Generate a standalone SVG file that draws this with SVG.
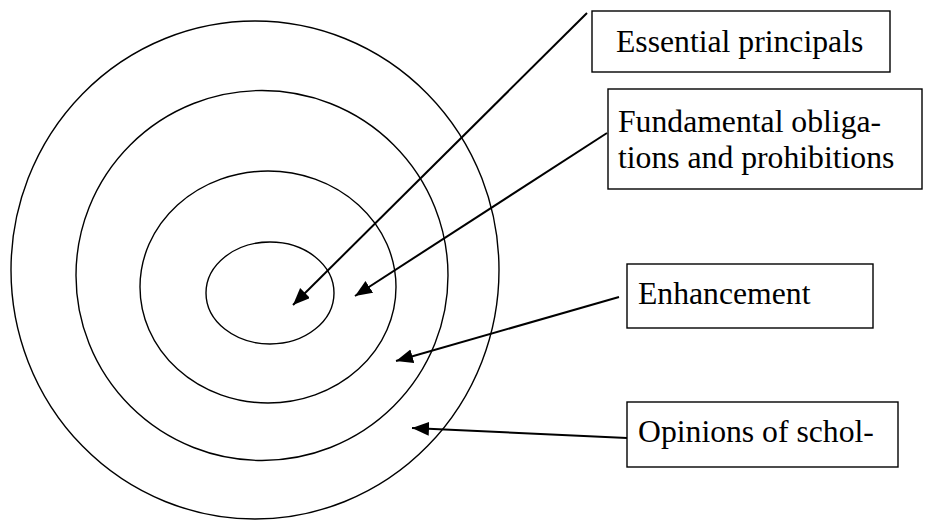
<svg xmlns="http://www.w3.org/2000/svg" width="930" height="520" viewBox="0 0 930 520">
<style>
.ring{fill:none;stroke:#000;stroke-width:1.4}
.box{fill:#fff;stroke:#000;stroke-width:1.4}
.arr{stroke:#000;stroke-width:2;fill:none;marker-end:url(#ah)}
</style>
<defs>
<marker id="ah" markerUnits="userSpaceOnUse" markerWidth="20" markerHeight="16" refX="17" refY="7" orient="auto">
<path d="M0,0 L17,7 L0,14 z" fill="#000"/>
</marker>
</defs>
<rect width="930" height="520" fill="#fff"/>
<g id="rings">
<ellipse class="ring" cx="255" cy="270" rx="244" ry="249"/>
<ellipse class="ring" cx="262" cy="275.5" rx="186" ry="185"/>
<ellipse class="ring" cx="268" cy="287" rx="128" ry="116"/>
<ellipse class="ring" cx="270" cy="293" rx="64" ry="51"/>
</g>
<g id="connectors">
<line class="arr" x1="587" y1="13" x2="293" y2="305"/>
<line class="arr" x1="607" y1="133" x2="355" y2="296"/>
<line class="arr" x1="619" y1="297" x2="396" y2="361"/>
<line class="arr" x1="627" y1="438" x2="412" y2="428"/>
</g>
<g font-family="Liberation Serif, DejaVu Serif, serif" font-size="31.7" fill="#000">
<g id="n1">
<rect class="box" x="592" y="11" width="298" height="61"/>
<text x="616" y="52">Essential principals</text>
</g>
<g id="n2">
<rect class="box" x="608" y="89" width="314" height="100"/>
<text x="618" y="132">Fundamental obliga-</text>
<text x="618" y="168">tions and prohibitions</text>
</g>
<g id="n3">
<rect class="box" x="627" y="264" width="246" height="64"/>
<text x="638" y="304">Enhancement</text>
</g>
<g id="n4">
<rect class="box" x="627" y="402" width="271" height="65"/>
<text x="638" y="442">Opinions of schol-</text>
</g>
</g>
</svg>
